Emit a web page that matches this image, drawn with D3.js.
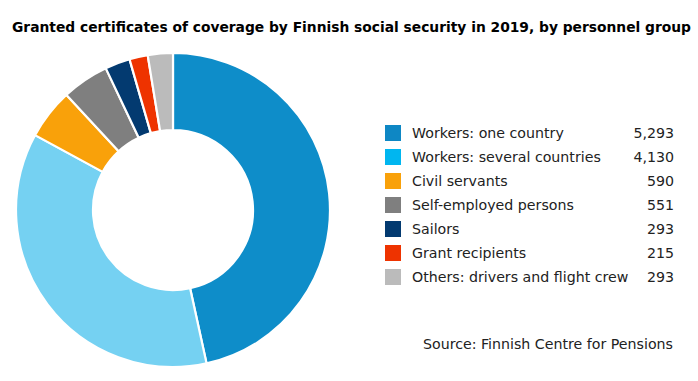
<!DOCTYPE html>
<html><head><meta charset="utf-8">
<script src="https://cdn.jsdelivr.net/npm/d3@7"></script>
<style>body{margin:0;background:#fff}svg{display:block}</style>
</head><body>
<svg id="c" width="698" height="381"></svg>
<script>
const categories = ["Workers: one country","Workers: several countries","Civil servants","Self-employed persons","Sailors","Grant recipients","Others: drivers and flight crew"];
const values = [5293,4130,590,551,293,215,293];
const sliceColors = ["#0E8DC9","#75D1F2","#F9A10A","#7F7F7F","#033A70","#EE3300","#BBBBBB"];
const legendColors = ["#0E87C4","#00B6F0","#F9A10A","#7F7F7F","#033A70","#EE3300","#BBBBBB"];
const title = "Granted certificates of coverage by Finnish social security in 2019, by personnel group";
const source = "Source: Finnish Centre for Pensions";

const svg = d3.select("#c");
const font = "Verdana, 'DejaVu Sans', sans-serif";
const fs = 14.2;

svg.append("text").attr("x", 12).attr("y", 32)
  .attr("font-family", "Tahoma, 'DejaVu Sans Condensed', 'DejaVu Sans', sans-serif")
  .attr("font-weight", "bold").attr("font-size", 13.5).attr("fill", "#000")
  .attr("textLength", 679).attr("lengthAdjust", "spacingAndGlyphs")
  .text(title);

const data = categories.map((c,i)=>({c, v: values[i], i}));
const pie = d3.pie().value(d=>d.v).sort(null);
const arc = d3.arc().innerRadius(80).outerRadius(157);
const g = svg.append("g").attr("transform","translate(173,210)");
g.selectAll("path").data(pie(data)).join("path")
  .attr("d", arc).attr("fill", d=>sliceColors[d.data.i])
  .attr("stroke","#fff").attr("stroke-width",2.2).attr("stroke-linejoin","round");

const y = d3.scaleBand().domain(categories).range([121, 289]);
const lg = svg.append("g");
const rows = lg.selectAll("g").data(data).join("g")
  .attr("transform", d=>`translate(0,${y(d.c)+y.bandwidth()/2})`);
rows.append("rect").attr("x",385).attr("y",-8).attr("width",16).attr("height",16)
  .attr("fill", d=>legendColors[d.i]);
rows.append("text").attr("x",412).attr("y",0).attr("dy","0.35em")
  .attr("font-family", font).attr("font-size",fs).attr("fill","#222")
  .text(d=>d.c);
const fmt = d3.format(",");
rows.append("text").attr("x",674).attr("y",0).attr("dy","0.35em").attr("text-anchor","end")
  .attr("font-family", font).attr("font-size",fs).attr("fill","#222")
  .text(d=>fmt(d.v));

svg.append("text").attr("x",673).attr("y",344).attr("dy","0.35em").attr("text-anchor","end")
  .attr("font-family", font).attr("font-size",fs).attr("fill","#222")
  .text(source);
</script>
</body></html>
